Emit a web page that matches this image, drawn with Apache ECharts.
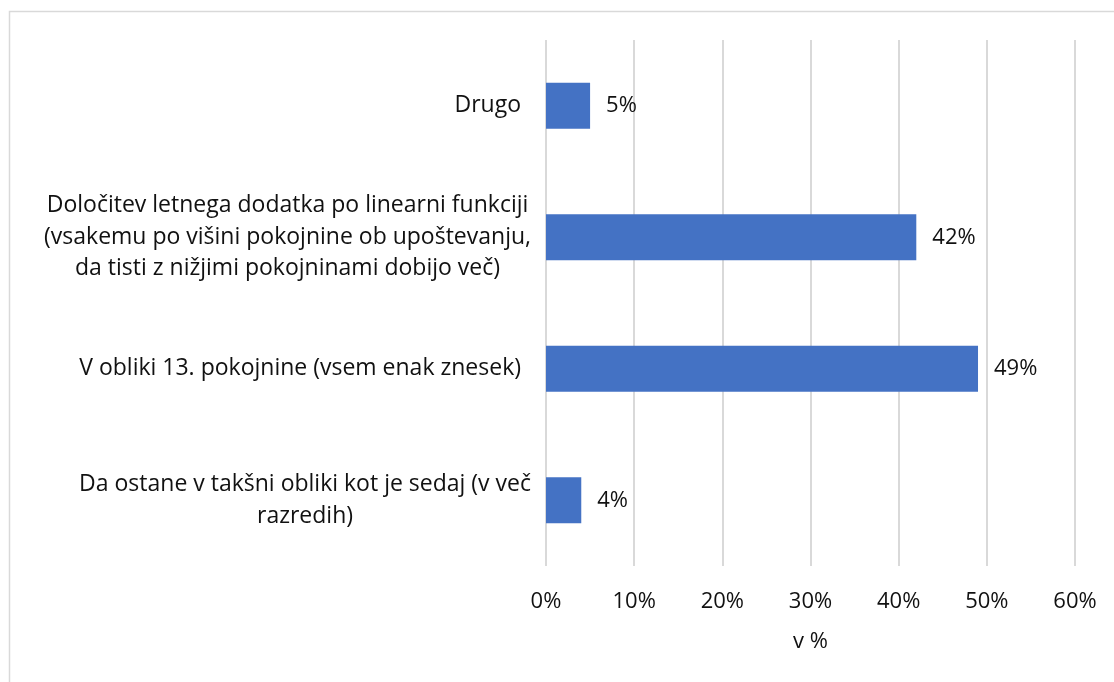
<!DOCTYPE html>
<html>
<head>
<meta charset="utf-8">
<script src="https://cdn.jsdelivr.net/npm/echarts@6/dist/echarts.min.js"></script>
<style>
  html, body { margin: 0; padding: 0; background: #fff; }
  #chart { width: 1114px; height: 682px; }
</style>
</head>
<body>
<div id="chart"></div>
<script>
// data, bottom to top as drawn
var categories = [
  'Da ostane v takšni obliki kot je sedaj (v več\nrazredih)',
  'V obliki 13. pokojnine (vsem enak znesek)',
  'Določitev letnega dodatka po linearni funkciji\n(vsakemu po višini pokojnine ob upoštevanju,\nda tisti z nižjimi pokojninami dobijo več)',
  'Drugo'
];
var values = [4, 49, 42, 5];
var xTicks = [0, 10, 20, 30, 40, 50, 60];
var axisTitle = 'v %';

var font = 'Open Sans';
var textColor = '#111';

var chart = echarts.init(document.getElementById('chart'));

chart.setOption({
  backgroundColor: '#fff',
  animation: false,
  textStyle: { fontFamily: font },
  graphic: [{
    type: 'rect',
    shape: { x: 9.5, y: 11.5, width: 1200, height: 800 },
    style: { fill: 'none', stroke: '#d9d9d9', lineWidth: 1.5 },
    silent: true
  }],
  grid: { left: 546, right: 39, top: 40, bottom: 116, containLabel: false },
  xAxis: {
    type: 'value',
    min: xTicks[0],
    max: xTicks[xTicks.length - 1],
    interval: 10,
    name: axisTitle,
    nameLocation: 'middle',
    nameGap: 65,
    nameTextStyle: { fontSize: 22, color: textColor, fontFamily: font },
    axisLine: { show: false },
    axisTick: { show: false },
    axisLabel: {
      margin: 25,
      fontSize: 22,
      color: textColor,
      fontFamily: font,
      formatter: function (v) { return v + '%'; }
    },
    splitLine: { show: true, lineStyle: { color: '#d9d9d9', width: 2 } }
  },
  yAxis: {
    type: 'category',
    data: categories,
    axisLine: { show: false },
    axisTick: { show: false },
    axisLabel: {
      margin: 15,
      fontSize: 23,
      lineHeight: 31.5,
      color: textColor,
      fontFamily: font,
      formatter: function (v) {
        var lines = v.split('\n');
        // single-line labels sit a bit further from the axis
        var st = lines.length > 1 ? 'c' : 's';
        return lines.map(function (l) { return '{' + st + '|' + l + '}'; }).join('\n');
      },
      rich: {
        c: { align: 'center', fontSize: 23, lineHeight: 31.5, color: textColor, fontFamily: font },
        s: { fontSize: 23, lineHeight: 31.5, color: textColor, fontFamily: font, padding: [0, 10, 0, 0] }
      }
    }
  },
  series: [{
    type: 'bar',
    data: values,
    barWidth: 46,
    itemStyle: { color: '#4472c4' },
    label: {
      show: true,
      position: 'right',
      distance: 16,
      fontSize: 22,
      color: textColor,
      fontFamily: font,
      formatter: function (p) { return p.value + '%'; }
    }
  }]
});
</script>
</body>
</html>
